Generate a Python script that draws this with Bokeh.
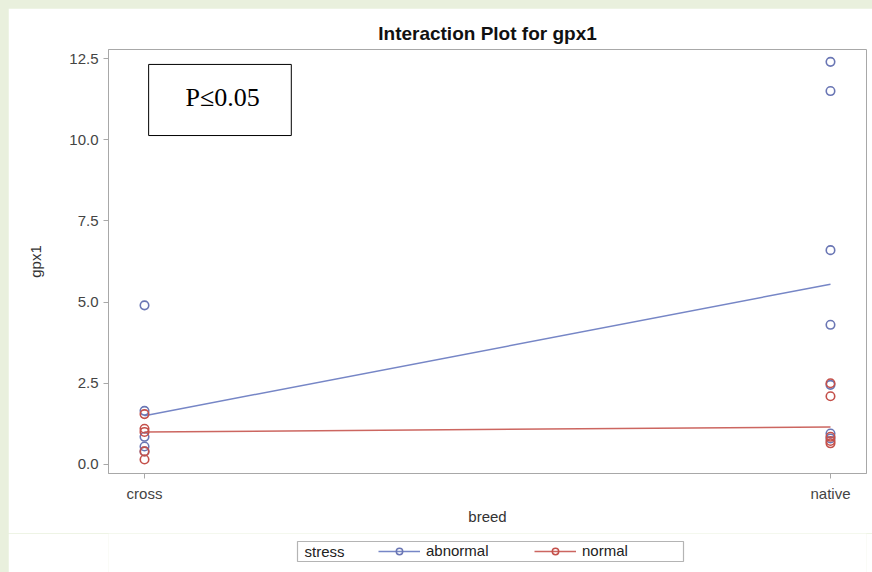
from bokeh.plotting import figure
from bokeh.layouts import column
from bokeh.models import Range1d, FixedTicker, Legend, LegendItem, BoxAnnotation, Label
from bokeh.embed import file_html
from bokeh.resources import INLINE

# ---- data ----
breeds = ["cross", "native"]
breed_pos = [0, 1]
abn_cross = [4.9, 1.65, 0.85, 0.55, 0.4]
abn_native = [12.4, 11.5, 6.6, 4.3, 2.45, 0.95, 0.8]
nor_cross = [1.55, 1.1, 1.0, 0.4, 0.15]
nor_native = [2.5, 2.1, 0.85, 0.72, 0.65]
abn_mean = [1.5, 5.55]
nor_mean = [1.0, 1.15]
y_ticks = [0, 2.5, 5, 7.5, 10, 12.5]
y_tick_labels = ["0.0", "2.5", "5.0", "7.5", "10.0", "12.5"]
stress_levels = ["abnormal", "normal"]

BLUE_M = "#6a76b4"
RED_M = "#c4504a"
BLUE_L = "#7686c6"
RED_L = "#cc6660"
GREY = "#a8a8a8"
FONT = "Liberation Sans"

p = figure(width=864, height=525, output_backend="svg", toolbar_location=None,
           x_range=Range1d(-0.0525, 1.0525), y_range=Range1d(-0.28, 12.78),
           min_border_left=100, min_border_right=6, min_border_top=41, min_border_bottom=60,
           title="Interaction Plot for gpx1")
p.border_fill_color = "white"
p.background_fill_color = "white"
p.outline_line_color = GREY
p.grid.visible = False

p.title.align = "center"
p.title.text_font = FONT
p.title.text_font_size = "19px"
p.title.text_font_style = "bold"
p.title.text_color = "#111111"
p.title.standoff = 12

p.xaxis.ticker = FixedTicker(ticks=breed_pos)
p.xaxis.major_label_overrides = {pos: lab for pos, lab in zip(breed_pos, breeds)}
p.yaxis.ticker = FixedTicker(ticks=y_ticks)
p.yaxis.major_label_overrides = {t: l for t, l in zip(y_ticks, y_tick_labels)}
p.xaxis.axis_label = "breed"
p.yaxis.axis_label = "gpx1"
for ax in (p.xaxis, p.yaxis):
    ax.axis_line_color = GREY
    ax.major_tick_line_color = GREY
    ax.minor_tick_line_color = None
    ax.major_tick_in = 0
    ax.major_tick_out = 5
    ax.major_label_text_font = FONT
    ax.major_label_text_font_size = "15px"
    ax.major_label_text_color = "#444444"
    ax.axis_label_text_font = FONT
    ax.axis_label_text_font_size = "15px"
    ax.axis_label_text_font_style = "normal"
    ax.axis_label_text_color = "#333333"
p.xaxis.major_label_standoff = 6
p.xaxis.axis_label_standoff = 3
p.yaxis.major_label_standoff = 5
p.yaxis.axis_label_standoff = 22

l_abn = p.line(breed_pos, abn_mean, line_color=BLUE_L, line_width=1.5)
l_nor = p.line(breed_pos, nor_mean, line_color=RED_L, line_width=1.5)

p.scatter([breed_pos[0]] * len(abn_cross), abn_cross, marker="circle", size=8.5,
          fill_color=None, line_color=BLUE_M, line_width=1.6)
p.scatter([breed_pos[1]] * len(abn_native), abn_native, marker="circle", size=8.5,
          fill_color=None, line_color=BLUE_M, line_width=1.6)
p.scatter([breed_pos[0]] * len(nor_cross), nor_cross, marker="circle", size=8.5,
          fill_color=None, line_color=RED_M, line_width=1.6)
p.scatter([breed_pos[1]] * len(nor_native), nor_native, marker="circle", size=8.5,
          fill_color=None, line_color=RED_M, line_width=1.6)

box = BoxAnnotation(left=0.006, right=0.214, top=12.32, bottom=10.13,
                    fill_color="white", fill_alpha=1.0, line_color="black", line_alpha=1.0,
                    line_width=1)
p.add_layout(box)
p.add_layout(Label(x=0.114, y=11.3, text="P≤0.05", text_align="center", text_baseline="middle",
                   text_font="Liberation Serif", text_font_size="26px", text_color="black"))

# ---- legend strip: its frame is aligned with the main frame by the column layout;
# ranges are set so that annotation units equal page pixels ----
lf = figure(width=864, height=39, output_backend="svg", toolbar_location=None,
            x_range=Range1d(108, 866), y_range=Range1d(572, 533),
            min_border_left=100, min_border_right=6, min_border_top=0, min_border_bottom=0)
lf.axis.visible = False
lf.grid.visible = False
lf.outline_line_color = None
lf.border_fill_color = "white"
lf.background_fill_color = "white"

# proxy renderers for legend glyphs (kept outside the visible range)
px, py = [0, 1], [0, 0]
la_l = lf.line(px, py, line_color=BLUE_L, line_width=1.5)
la_c = lf.scatter(px, py, marker="circle", size=7, fill_color=None, line_color=BLUE_M, line_width=1.5)
ln_l = lf.line(px, py, line_color=RED_L, line_width=1.5)
ln_c = lf.scatter(px, py, marker="circle", size=7, fill_color=None, line_color=RED_M, line_width=1.5)

lf.add_layout(BoxAnnotation(left=297, right=683, bottom=561, top=541, fill_color="white",
                            fill_alpha=1.0, line_color="#b4b4b4", line_alpha=1.0, line_width=1.2))
lf.add_layout(Label(x=304, y=551, text="stress", text_baseline="middle", text_align="left",
                    text_font=FONT, text_font_size="15px", text_color="#222222"))

leg = Legend(items=[LegendItem(label=stress_levels[0], renderers=[la_l, la_c]),
                    LegendItem(label=stress_levels[1], renderers=[ln_l, ln_c])],
             orientation="horizontal", location=(270, 13))
leg.border_line_color = None
leg.background_fill_alpha = 0
leg.label_text_font = FONT
leg.label_text_font_size = "15px"
leg.label_text_color = "#222222"
leg.glyph_width = 42
leg.glyph_height = 16
leg.label_standoff = 6
leg.label_width = 100
leg.padding = 4
leg.spacing = 8
leg.margin = 0
lf.add_layout(leg)

layout = column(p, lf, spacing=0)

html = file_html(layout, INLINE)
html = html.replace("</head>",
                    "<style>html, body {background:#e9f0dd; margin:0; padding:0;} "
                    "body {padding:8px 0 0 8px;}</style></head>", 1)
open("out.html", "w").write(html)
